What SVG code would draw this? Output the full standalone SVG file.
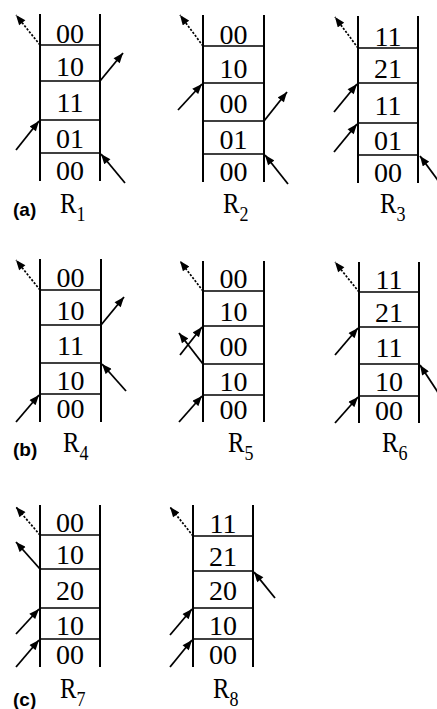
<svg xmlns="http://www.w3.org/2000/svg" width="437" height="709" viewBox="0 0 437 709">
<defs>
<style>
.wall{stroke:#000;stroke-width:2;fill:none}
.rung{stroke:#000;stroke-width:1.6;fill:none}
.c{font-family:"Liberation Serif","Times New Roman",serif;font-size:28px;text-anchor:middle;fill:#000}
.lbl{font-family:"Liberation Serif","Times New Roman",serif;font-size:30px;fill:#000}
.sub{font-size:22px}
.tag{font-family:"Liberation Sans",Arial,sans-serif;font-weight:bold;font-size:19px;fill:#000}
.arr{stroke:#000;stroke-width:1.8;fill:none;marker-end:url(#ah)}
.dot{stroke:#000;stroke-width:1.7;fill:none;stroke-dasharray:2.2 1.6;marker-end:url(#ah)}
</style>
<marker id="ah" viewBox="0 0 10 8" refX="10" refY="4" markerWidth="11" markerHeight="8" markerUnits="userSpaceOnUse" orient="auto">
<path d="M0,0 L10,4 L0,8 z" fill="#000"/>
</marker>
</defs>
<rect width="437" height="709" fill="#fff"/>

<g id="R1">
<path class="wall" d="M40,14V181M100,14V181"/>
<path class="rung" d="M40,45H100M40,81H100M40,120H100M40,153H100"/>
<text class="c" x="70" y="43">00</text><text class="c" x="70" y="76">10</text><text class="c" x="70" y="112">11</text><text class="c" x="70" y="148">01</text><text class="c" x="70" y="180">00</text>
<text class="lbl" transform="translate(60,213) scale(0.82,1)">R<tspan class="sub" dy="8">1</tspan></text>
</g>
<g id="R2">
<path class="wall" d="M203,15V182M264,15V182"/>
<path class="rung" d="M203,46H264M203,83H264M203,121H264M203,154H264"/>
<text class="c" x="233.5" y="44">00</text><text class="c" x="233.5" y="78">10</text><text class="c" x="233.5" y="113">00</text><text class="c" x="233.5" y="149">01</text><text class="c" x="233.5" y="181">00</text>
<text class="lbl" transform="translate(223,213) scale(0.82,1)">R<tspan class="sub" dy="8">2</tspan></text>
</g>
<g id="R3">
<path class="wall" d="M358,16V183M418,16V183"/>
<path class="rung" d="M358,48H418M358,83H418M358,123H418M358,155H418"/>
<text class="c" x="388" y="46">11</text><text class="c" x="388" y="78">21</text><text class="c" x="388" y="115">11</text><text class="c" x="388" y="150">01</text><text class="c" x="388" y="182">00</text>
<text class="lbl" transform="translate(380,213) scale(0.82,1)">R<tspan class="sub" dy="8">3</tspan></text>
</g>
<g id="R4">
<path class="wall" d="M40,259V422M101,259V422"/>
<path class="rung" d="M40,290H101M40,325H101M40,363H101M40,394H101"/>
<text class="c" x="70.5" y="287">00</text><text class="c" x="70.5" y="320">10</text><text class="c" x="70.5" y="355">11</text><text class="c" x="70.5" y="390">10</text><text class="c" x="70.5" y="418">00</text>
<text class="lbl" transform="translate(63,452) scale(0.82,1)">R<tspan class="sub" dy="8">4</tspan></text>
</g>
<g id="R5">
<path class="wall" d="M203,261V422M264,261V422"/>
<path class="rung" d="M203,291H264M203,326H264M203,364H264M203,395H264"/>
<text class="c" x="233.5" y="288">00</text><text class="c" x="233.5" y="321">10</text><text class="c" x="233.5" y="356">00</text><text class="c" x="233.5" y="391">10</text><text class="c" x="233.5" y="419">00</text>
<text class="lbl" transform="translate(228,452) scale(0.82,1)">R<tspan class="sub" dy="8">5</tspan></text>
</g>
<g id="R6">
<path class="wall" d="M359,262V423M419,262V423"/>
<path class="rung" d="M359,292H419M359,327H419M359,364H419M359,396H419"/>
<text class="c" x="389" y="289">11</text><text class="c" x="389" y="322">21</text><text class="c" x="389" y="357">11</text><text class="c" x="389" y="391">10</text><text class="c" x="389" y="420">00</text>
<text class="lbl" transform="translate(382,452) scale(0.82,1)">R<tspan class="sub" dy="8">6</tspan></text>
</g>
<g id="R7">
<path class="wall" d="M40,505V667M100,505V667"/>
<path class="rung" d="M40,535H100M40,569H100M40,608H100M40,639H100"/>
<text class="c" x="70" y="532">00</text><text class="c" x="70" y="564">10</text><text class="c" x="70" y="600">20</text><text class="c" x="70" y="635">10</text><text class="c" x="70" y="664">00</text>
<text class="lbl" transform="translate(60,698) scale(0.82,1)">R<tspan class="sub" dy="8">7</tspan></text>
</g>
<g id="R8">
<path class="wall" d="M193,505V667M253,505V667"/>
<path class="rung" d="M193,536H253M193,571H253M193,608H253M193,639H253"/>
<text class="c" x="223" y="533">11</text><text class="c" x="223" y="566">21</text><text class="c" x="223" y="600">20</text><text class="c" x="223" y="635">10</text><text class="c" x="223" y="664">00</text>
<text class="lbl" transform="translate(213,698) scale(0.82,1)">R<tspan class="sub" dy="8">8</tspan></text>
</g>

<g id="tags">
<text class="tag" x="13" y="216">(a)</text>
<text class="tag" x="13" y="456">(b)</text>
<text class="tag" x="13" y="706">(c)</text>
</g>

<g id="connectors">
<line class="dot" x1="40" y1="45" x2="16" y2="15"/>
<line class="arr" x1="100" y1="81" x2="123" y2="53"/>
<line class="arr" x1="16" y1="150" x2="39" y2="121"/>
<line class="arr" x1="125" y1="183" x2="101" y2="154"/>

<line class="dot" x1="203" y1="46" x2="180" y2="15"/>
<line class="arr" x1="178" y1="110" x2="202" y2="84"/>
<line class="arr" x1="264" y1="121" x2="287" y2="92"/>
<line class="arr" x1="288" y1="184" x2="265" y2="155"/>

<line class="dot" x1="358" y1="48" x2="335" y2="17"/>
<line class="arr" x1="334" y1="112" x2="357" y2="84"/>
<line class="arr" x1="334" y1="152" x2="357" y2="124"/>
<line class="arr" x1="443" y1="187" x2="420" y2="156"/>

<line class="dot" x1="40" y1="290" x2="16" y2="260"/>
<line class="arr" x1="101" y1="325" x2="124" y2="297"/>
<line class="arr" x1="126" y1="391" x2="102" y2="364"/>
<line class="arr" x1="16" y1="422" x2="39" y2="395"/>

<line class="dot" x1="203" y1="291" x2="180" y2="261"/>
<line class="arr" x1="180" y1="355" x2="202" y2="327"/>
<line class="arr" x1="203" y1="364" x2="179" y2="333"/>
<line class="arr" x1="179" y1="422" x2="202" y2="396"/>

<line class="dot" x1="359" y1="292" x2="335" y2="262"/>
<line class="arr" x1="335" y1="355" x2="358" y2="328"/>
<line class="arr" x1="443" y1="400" x2="420" y2="365"/>
<line class="arr" x1="335" y1="423" x2="358" y2="397"/>

<line class="dot" x1="40" y1="535" x2="16" y2="507"/>
<line class="arr" x1="40" y1="569" x2="16" y2="542"/>
<line class="arr" x1="16" y1="634" x2="39" y2="609"/>
<line class="arr" x1="16" y1="667" x2="39" y2="640"/>

<line class="dot" x1="193" y1="536" x2="170" y2="507"/>
<line class="arr" x1="275" y1="598" x2="254" y2="572"/>
<line class="arr" x1="170" y1="635" x2="192" y2="609"/>
<line class="arr" x1="170" y1="667" x2="192" y2="640"/>
</g>
</svg>
